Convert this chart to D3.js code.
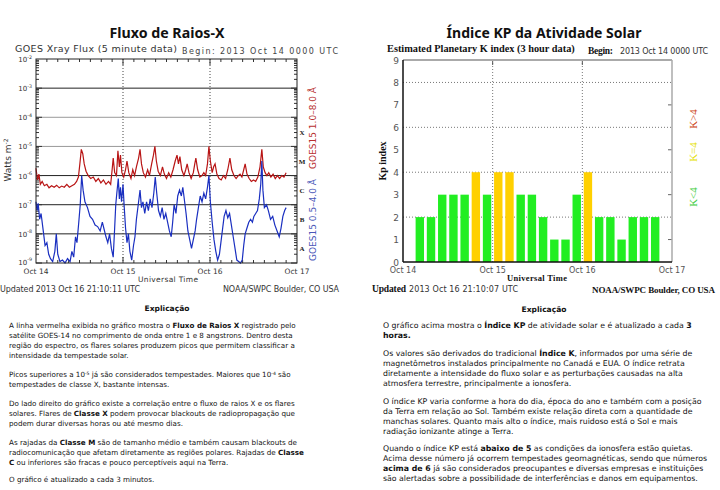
<!DOCTYPE html>
<html><head><meta charset="utf-8">
<script src="https://cdn.jsdelivr.net/npm/d3@7"></script>
<style>body{margin:0;background:#fff}svg{display:block}</style>
</head><body>
<svg id="c" width="720" height="490"></svg>
<script>
// ---------------- DATA ----------------
// GOES15 1.0-8.0 A (log10 W/m^2), [hours since Oct 14 00 UTC, exponent]
const xrayLong = [[0,-5.75],[0.4,-6.15],[0.8,-5.95],[1.2,-6.3],[1.7,-6.2],[2.3,-6.35],[3,-6.3],[3.6,-6.42],[4.3,-6.35],[5,-6.4],[5.7,-6.33],[6.4,-6.42],[7.1,-6.36],[7.8,-6.4],[8.5,-6.3],[9.2,-6.4],[9.9,-6.35],[10.6,-6.3],[11.2,-6.2],[11.7,-6.05],[12.1,-5.6],[12.5,-5.1],[12.9,-5.25],[13.3,-5.6],[13.8,-5.85],[14.4,-6.0],[15.1,-6.1],[15.8,-6.05],[16.5,-6.2],[17.2,-6.1],[17.9,-6.25],[18.6,-6.15],[19.3,-6.3],[20,-6.2],[20.6,-6.3],[21.0,-5.8],[21.3,-5.4],[21.7,-5.9],[22.2,-6.0],[22.6,-5.15],[23.0,-5.7],[23.3,-5.3],[23.7,-5.9],[24.2,-6.05],[24.7,-5.8],[25.1,-5.5],[25.6,-5.9],[26.2,-6.1],[26.7,-5.8],[27.2,-6.0],[27.7,-5.7],[28.3,-5.4],[28.7,-5.1],[29.1,-5.6],[29.6,-5.9],[30.2,-6.05],[30.8,-5.8],[31.3,-6.0],[31.9,-5.6],[32.4,-5.3],[32.8,-5.0],[33.2,-5.5],[33.7,-5.85],[34.3,-6.0],[34.9,-5.7],[35.4,-5.95],[36.0,-6.1],[36.6,-5.9],[37.2,-6.05],[37.8,-5.8],[38.4,-5.5],[38.9,-5.3],[39.3,-5.6],[39.7,-5.35],[40.2,-5.8],[40.8,-6.0],[41.3,-5.8],[41.7,-5.6],[42.2,-5.9],[42.8,-6.1],[43.4,-5.9],[43.8,-5.6],[44.1,-5.4],[44.6,-5.8],[45.2,-6.05],[45.8,-6.0],[46.3,-5.9],[46.8,-6.0],[47.3,-5.6],[47.7,-5.0],[48.1,-5.5],[48.6,-5.9],[49.0,-5.7],[49.4,-5.6],[49.9,-5.95],[50.5,-6.1],[51.1,-6.15],[51.7,-6.0],[52.3,-6.1],[52.9,-5.8],[53.5,-5.4],[54.0,-5.8],[54.6,-6.0],[55.2,-6.1],[55.8,-6.0],[56.3,-5.95],[56.8,-6.05],[57.3,-5.8],[57.7,-5.6],[58.2,-5.95],[58.8,-6.1],[59.4,-6.2],[60.0,-6.15],[60.6,-6.2],[61.2,-6.05],[61.8,-5.7],[62.3,-5.1],[62.7,-5.7],[63.2,-5.9],[63.7,-6.0],[64.2,-5.9],[64.8,-6.05],[65.4,-5.95],[66.0,-6.1],[66.6,-6.0],[67.2,-6.1],[67.8,-6.0],[68.4,-6.05],[69.0,-5.9]];
// GOES15 0.5-4.0 A
const xrayShort = [[0,-6.9],[0.3,-7.2],[0.6,-6.95],[1.0,-7.5],[1.4,-7.3],[2.0,-7.9],[2.5,-8.4],[3.0,-8.3],[3.5,-8.7],[4.0,-8.85],[4.6,-8.95],[5.2,-8.6],[5.6,-8.0],[6.0,-8.7],[6.6,-8.95],[7.3,-8.9],[8.0,-9.0],[8.7,-8.85],[9.4,-8.95],[9.9,-8.6],[10.4,-8.8],[10.9,-8.1],[11.3,-8.3],[11.8,-7.6],[12.2,-7.0],[12.6,-6.0],[13.0,-6.5],[13.5,-6.9],[14.2,-7.1],[14.9,-7.4],[15.6,-7.5],[16.3,-7.7],[17.0,-7.75],[17.7,-7.9],[18.3,-7.6],[18.8,-7.85],[19.3,-8.1],[19.8,-8.3],[20.3,-8.0],[20.8,-8.5],[21.3,-8.8],[21.7,-7.8],[22.0,-7.0],[22.3,-6.6],[22.7,-6.1],[23.0,-6.8],[23.3,-6.4],[23.6,-6.9],[24.0,-6.3],[24.3,-7.0],[24.7,-7.8],[25.1,-8.3],[25.5,-8.0],[25.9,-8.6],[26.4,-8.9],[26.9,-8.4],[27.3,-8.1],[27.7,-7.5],[28.2,-7.0],[28.7,-6.5],[29.1,-7.1],[29.5,-6.9],[30.0,-7.3],[30.5,-6.9],[31.0,-7.2],[31.5,-6.8],[32.0,-7.1],[32.5,-6.6],[32.9,-6.05],[33.3,-6.6],[33.8,-7.2],[34.3,-7.4],[34.8,-7.1],[35.3,-7.5],[35.8,-7.3],[36.3,-7.6],[36.8,-7.9],[37.3,-8.1],[37.7,-7.6],[38.1,-7.0],[38.6,-7.3],[39.1,-6.7],[39.6,-6.5],[40.1,-6.7],[40.5,-6.4],[41.0,-6.9],[41.4,-7.3],[41.9,-7.9],[42.4,-8.2],[42.9,-8.5],[43.4,-8.2],[43.9,-7.9],[44.3,-7.5],[44.8,-7.1],[45.3,-6.7],[45.8,-6.9],[46.3,-6.6],[46.8,-6.8],[47.3,-6.4],[47.7,-6.0],[48.1,-6.9],[48.6,-7.6],[49.1,-8.2],[49.6,-8.6],[50.1,-8.9],[50.6,-8.7],[51.0,-8.3],[51.5,-7.8],[51.9,-7.4],[52.4,-7.2],[52.9,-7.45],[53.4,-7.3],[53.9,-7.7],[54.4,-8.1],[54.9,-8.5],[55.4,-8.9],[55.9,-8.95],[56.4,-9.0],[56.9,-8.9],[57.3,-8.4],[57.7,-8.0],[58.2,-7.8],[58.7,-7.6],[59.2,-7.5],[59.7,-7.6],[60.1,-7.4],[60.6,-7.3],[61.1,-7.2],[61.6,-6.8],[62.0,-6.3],[62.3,-5.5],[62.6,-6.5],[63.0,-7.1],[63.6,-7.0],[64.1,-7.2],[64.7,-7.5],[65.3,-7.4],[65.9,-7.7],[66.5,-7.9],[67.1,-8.1],[67.6,-7.8],[68.1,-7.4],[68.6,-7.2],[69.0,-7.1]];
const xrayDecades = [-9,-8,-7,-6,-5,-4,-3,-2];
const flareClasses = ["A","B","C","M","X"];
const dayLabels = ["Oct 14","Oct 15","Oct 16","Oct 17"];

// Kp index per 3-hour slot starting Oct 14 00 UTC
const kpValues = [0,2,2,3,3,3,4,3, 4,4,3,3,2,1,1,3, 4,2,2,1,2,2,2];
const kpTicks = [0,1,2,3,4,5,6,7,8,9];
const kpLegend = [["K<4","#3ccc3c"],["K=4","#e4e000"],["K>4","#cc4010"]];

const leftParas = [
 [[["A linha vermelha exibida no gráfico mostra o "],["Fluxo de Raios X","b"],[" registrado pelo"]],
  [["satélite GOES-14 no comprimento de onda entre 1 e 8 angstrons. Dentro desta"]],
  [["região do espectro, os flares solares produzem picos que permitem classificar a"]],
  [["intensidade da tempestade solar."]]],
 [[["Picos superiores a 10"],["-5","s"],[" já são considerados tempestades. Maiores que 10"],["-4","s"],[" são"]],
  [["tempestades de classe X, bastante intensas."]]],
 [[["Do lado direito do gráfico existe a correlação entre o fluxo de raios X e os flares"]],
  [["solares. Flares de "],["Classe X","b"],[" podem provocar blackouts de radiopropagação que"]],
  [["podem durar diversas horas ou até mesmo dias."]]],
 [[["As rajadas da "],["Classe M","b"],[" são de tamanho médio e também causam blackouts de"]],
  [["radiocomunicação que afetam diretamente as regiões polares. Rajadas de "],["Classe","b"]],
  [["C","b"],[" ou inferiores são fracas e pouco perceptíveis aqui na Terra."]]],
 [[["O gráfico é atualizado a cada 3 minutos."]]]
];
const rightParas = [
 [[["O gráfico acima mostra o "],["Índice KP","b"],[" de atividade solar e é atualizado a cada "],["3","b"]],
  [["horas.","b"]]],
 [[["Os valores são derivados do tradicional "],["Índice K","b"],[", informados por uma série de"]],
  [["magnetômetros instalados principalmente no Canadá e EUA. O índice retrata"]],
  [["diretamente a intensidade do fluxo solar e as perturbações causadas na alta"]],
  [["atmosfera terrestre, principalmente a ionosfera."]]],
 [[["O índice KP varia conforme a hora do dia, época do ano e também com a posição"]],
  [["da Terra em relação ao Sol. Também existe relação direta com a quantidade de"]],
  [["manchas solares. Quanto mais alto o índice, mais ruidoso está o Sol e mais"]],
  [["radiação ionizante atinge a Terra."]]],
 [[["Quando o índice KP está "],["abaixo de 5","b"],[" as condições da ionosfera estão quietas."]],
  [["Acima desse número já ocorrem tempestades geomagnéticas, sendo que números"]],
  [["acima de 6","b"],[" já são considerados preocupantes e diversas empresas e instituições"]],
  [["são alertadas sobre a possibilidade de interferências e danos em equipamentos."]]]
];

// ---------------- DRAW ----------------
const svg = d3.select("#c");
svg.append("rect").attr("width",720).attr("height",490).attr("fill","#fff");
const SANS = "'DejaVu Sans', Verdana, sans-serif";
const SERIF = "'Liberation Serif', 'DejaVu Serif', serif";
const TITLE = "'Noto Sans', 'Open Sans', sans-serif";

function fit(sel, w){ const m = sel.node().getComputedTextLength(); sel.attr("font-size", parseFloat(sel.attr("font-size"))*w/m); return sel; }
function txt(g,x,y,s,o){ o=o||{}; const t=g.append("text").attr("x",x).attr("y",y).text(s)
  .attr("font-family",o.ff||SANS).attr("font-size",o.fs||9).attr("fill",o.fill||"#222")
  .attr("font-weight",o.fw||"normal").attr("text-anchor",o.a||"start");
  if(o.w) fit(t,o.w);
  if(o.tl) t.attr("textLength",o.tl).attr("lengthAdjust","spacing");
  return t; }

// Titles
txt(svg,167,38,"Fluxo de Raios-X",{ff:TITLE,fw:"bold",fs:13,a:"middle",w:115,fill:"#111"});
txt(svg,544,38,"Índice KP da Atividade Solar",{ff:TITLE,fw:"bold",fs:13,a:"middle",w:195,fill:"#111"});

// ===== X-ray chart =====
const gx = svg.append("g");
const X0=36,X1=297,Y0=59,Y1=263;
const x = d3.scaleLinear().domain([0,72]).range([X0,X1]);
const y = d3.scaleLog().domain([1e-9,1e-2]).range([Y1,Y0]);

xrayDecades.filter(d=>d>-9 && d<-2).forEach(d=>{
  gx.append("line").attr("x1",X0).attr("x2",X1).attr("y1",y(10**d)).attr("y2",y(10**d))
    .attr("stroke",(d==-4||d==-5)?"#999":"#222").attr("stroke-width",1);
});
[24,48].forEach(h=>{
  gx.append("line").attr("x1",x(h)).attr("x2",x(h)).attr("y1",Y0).attr("y2",Y1)
   .attr("stroke","#444").attr("stroke-dasharray","1,2");
});
xrayDecades.slice(0,-1).forEach(d=>{
  for(let k=1;k<=9;k++){
    const yy=y(k*10**d), L=k==1?6:3;
    gx.append("line").attr("x1",X0).attr("x2",X0+L).attr("y1",yy).attr("y2",yy).attr("stroke","#333");
    gx.append("line").attr("x1",X1-L).attr("x2",X1).attr("y1",yy).attr("y2",yy).attr("stroke","#333");
  }
});
d3.range(3,72,3).forEach(h=>{
  const L = h%24==0?6:3;
  gx.append("line").attr("x1",x(h)).attr("x2",x(h)).attr("y1",Y0).attr("y2",Y0+L).attr("stroke","#333");
  gx.append("line").attr("x1",x(h)).attr("x2",x(h)).attr("y1",Y1-L).attr("y2",Y1).attr("stroke","#333");
});
const line = d3.line().x(d=>x(d[0])).y(d=>y(10**d[1]));
gx.append("path").datum(xrayLong).attr("d",line).attr("fill","none").attr("stroke","#b81414").attr("stroke-width",1.2);
gx.append("path").datum(xrayShort).attr("d",line).attr("fill","none").attr("stroke","#1a2fc0").attr("stroke-width",1.2);
gx.append("rect").attr("x",X0).attr("y",Y0).attr("width",X1-X0).attr("height",Y1-Y0).attr("fill","none").attr("stroke","#222");

xrayDecades.forEach(d=>{
  const t = gx.append("text").attr("x",32).attr("y",y(10**d)+(d==-9?1.5:3)).attr("text-anchor","end")
    .attr("font-family",SANS).attr("font-size",7).attr("fill","#333");
  t.append("tspan").text("10");
  t.append("tspan").attr("dy",-3.5).attr("font-size",4.8).text(String(d));
});
flareClasses.forEach((c,i)=>{
  txt(gx,302,y(10**(-8+i-0.5))+3,c,{ff:SERIF,fw:"bold",fs:7,a:"middle",fill:"#222"});
});
gx.append("text").attr("transform","translate(316,128) rotate(-90)").attr("text-anchor","middle")
  .attr("font-family",SANS).attr("font-size",9).attr("fill","#b83030").text("GOES15 1.0\u20138.0 \u00c5");
gx.append("text").attr("transform","translate(316,220) rotate(-90)").attr("text-anchor","middle")
  .attr("font-family",SANS).attr("font-size",9).attr("fill","#4a58b8").text("GOES15 0.5\u20134.0 \u00c5");
const yl = gx.append("text").attr("transform","translate(11,160) rotate(-90)").attr("text-anchor","middle")
  .attr("font-family",SANS).attr("font-size",9).attr("fill","#333");
yl.append("tspan").text("Watts m");
yl.append("tspan").attr("dy",-3).attr("font-size",6).text("-2");
dayLabels.forEach((s,i)=> txt(gx,x(i*24),274,s,{fs:7.5,a:"middle",fill:"#333"}));
txt(gx,138,282,"Universal Time",{fs:7.5,fill:"#333",tl:60});
txt(gx,15,52,"GOES Xray Flux (5 minute data)",{fs:9.5,fill:"#333",tl:162});
txt(gx,182,54,"Begin:  2013 Oct 14 0000 UTC",{fs:8,fill:"#444",tl:156});
txt(gx,0,292,"Updated 2013 Oct 16 21:10:11 UTC",{fs:8,fill:"#333",tl:140});
txt(gx,223,292,"NOAA/SWPC Boulder, CO USA",{fs:8,fill:"#333",tl:116});

// ===== Kp chart =====
const gk = svg.append("g");
const K0=403,K1=672,KT=60,KB=262;
const kx = d3.scaleLinear().domain([0,72]).range([K0,K1]);
const ky = d3.scaleLinear().domain([0,9]).range([KB,KT]);
[2,4,6,8].forEach(v=>{
  gk.append("line").attr("x1",K0).attr("x2",K1).attr("y1",ky(v)).attr("y2",ky(v))
    .attr("stroke","#777").attr("stroke-dasharray","1,2");
});
[24,48].forEach(h=>{
  gk.append("line").attr("x1",kx(h)).attr("x2",kx(h)).attr("y1",KT).attr("y2",KB)
    .attr("stroke","#777").attr("stroke-dasharray","1,2");
  gk.append("line").attr("x1",kx(h)).attr("x2",kx(h)).attr("y1",KT).attr("y2",KT+5).attr("stroke","#555");
});
const slotW = kx(3)-kx(0);
kpValues.forEach((v,i)=>{
  const col = v<4?"#22ee22":(v==4?"#ffd000":"#ee2200");
  gk.append("rect").attr("x",kx(i*3)+(slotW-8.4)/2).attr("width",8.4)
    .attr("y",ky(v)).attr("height",ky(0)-ky(v)).attr("fill",col);
});
[1,3,5,7].forEach(v=>{
  gk.append("line").attr("x1",K1-4).attr("x2",K1).attr("y1",ky(v)).attr("y2",ky(v)).attr("stroke","#666");
});
gk.append("line").attr("x1",K0).attr("x2",K1).attr("y1",KT).attr("y2",KT).attr("stroke","#aaa").attr("stroke-width",2);
gk.append("line").attr("x1",K1).attr("x2",K1).attr("y1",KT).attr("y2",KB).attr("stroke","#aaa").attr("stroke-width",1.5);
gk.append("line").attr("x1",K0).attr("x2",K0).attr("y1",KT).attr("y2",KB).attr("stroke","#111").attr("stroke-width",1.5);
gk.append("line").attr("x1",K0).attr("x2",K1).attr("y1",KB).attr("y2",KB).attr("stroke","#111").attr("stroke-width",1.5);
kpTicks.forEach(v=> txt(gk,399,ky(v)+3.5,String(v),{fs:9,a:"end",fill:"#555"}));
dayLabels.forEach((s,i)=> txt(gk,kx(i*24),273,s,{fs:8,a:"middle",fill:"#555"}));
gk.append("text").attr("transform","translate(386,161) rotate(-90)").attr("text-anchor","middle")
  .attr("font-family",SERIF).attr("font-weight","bold").attr("font-size",10).attr("fill","#111").text("Kp index");
const legendY = [197,152,119];
kpLegend.forEach((d,i)=>{
  gk.append("text").attr("transform",`translate(697,${legendY[i]}) rotate(-90)`).attr("text-anchor","middle")
    .attr("font-family",SERIF).attr("font-size",11).attr("fill",d[1]).text(d[0]);
});
txt(gk,507,281,"Universal Time",{ff:SERIF,fw:"bold",fs:8.5,fill:"#111",tl:60});
txt(gk,387,52,"Estimated Planetary K index (3 hour data)",{ff:SERIF,fw:"bold",fs:9,fill:"#111",w:188});
txt(gk,588,54,"Begin:",{ff:SERIF,fw:"bold",fs:9.5,fill:"#111",tl:25});
txt(gk,620,54,"2013 Oct 14 0000 UTC",{fs:8,fill:"#333",tl:88});
txt(gk,372,292,"Updated",{ff:SERIF,fw:"bold",fs:9.5,fill:"#111",tl:34});
txt(gk,409,292,"2013 Oct 16 21:10:07 UTC",{fs:8,fill:"#333",tl:109});
txt(gk,592,293,"NOAA/SWPC Boulder, CO USA",{ff:SERIF,fw:"bold",fs:9,fill:"#111",tl:123});

// ===== Explanations =====
function paras(g, x0, starts, lh, data, refLine, refW){
  const nodes=[];
  data.forEach((p,pi)=>{
    p.forEach((ln,li)=>{
      const t = g.append("text").attr("x",x0).attr("y",starts[pi]+li*lh)
        .attr("font-family",SANS).attr("font-size",7).attr("fill","#111");
      ln.forEach((seg,si)=>{
        const sp=t.append("tspan").text(seg[0]);
        if(seg[1]=="b") sp.attr("font-weight","bold");
        if(seg[1]=="s"){ sp.attr("dy",-2.5).attr("font-size",4.5); }
        else if(si>0 && ln[si-1][1]=="s") sp.attr("dy",2.5);
      });
      nodes.push(t);
    });
  });
  const [pi,li]=refLine; const idx = data.slice(0,pi).reduce((a,p)=>a+p.length,0)+li;
  const k = refW/nodes[idx].node().getComputedTextLength();
  nodes.forEach(t=>{ t.attr("font-size",7*k); t.selectAll("tspan").each(function(){const s=d3.select(this); if(s.attr("font-size")) s.attr("font-size",4.5*k);}); });
}
const ge = svg.append("g");
txt(ge,167,311,"Explicação",{fw:"bold",fs:8,a:"middle",fill:"#111",w:45});
txt(ge,544,312,"Explicação",{fw:"bold",fs:8,a:"middle",fill:"#111",w:45});
paras(ge, 9, [328,377,406,445,482], 10, leftParas, [0,0], 287);
paras(ge, 383, [328,356,404,451], 10, rightParas, [3,0], 310);
</script>
</body></html>
